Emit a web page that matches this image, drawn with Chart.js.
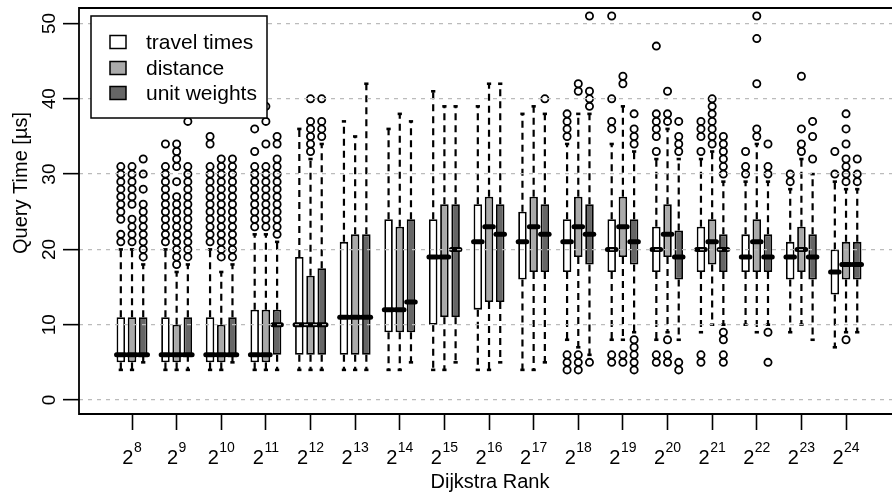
<!DOCTYPE html>
<html>
<head>
<meta charset="utf-8">
<script src="https://cdn.jsdelivr.net/npm/chart.js@4.4.1/dist/chart.umd.min.js"></script>
<style>
html, body { margin: 0; padding: 0; background: #fff; overflow: hidden; }
</style>
</head>
<body>
<canvas id="boxChart" width="892" height="495"></canvas>
<script>
// Dijkstra rank exponents (x categories), shown as 2^n
const rankExponents = [8, 9, 10, 11, 12, 13, 14, 15, 16, 17, 18, 19, 20, 21, 22, 23, 24];
const seriesNames = ['travel times', 'distance', 'unit weights'];
const yTicks = [0, 10, 20, 30, 40, 50];

// [lower whisker, q1, median, q3, upper whisker] per rank
const travelBox = [
    [4, 5, 6, 11, 20], [4, 5, 6, 11, 20], [4, 5, 6, 11, 20], [4, 5, 6, 12, 22],
    [4, 6, 10, 19, 36], [4, 6, 11, 21, 37], [4, 9, 12, 24, 36], [4, 10, 19, 24, 41],
    [4, 12, 21, 26, 39], [4, 16, 21, 25, 38], [8, 17, 21, 24, 34], [8, 17, 20, 24, 34],
    [8, 17, 20, 23, 32], [9, 17, 20, 23, 32], [10, 17, 19, 22, 29], [9, 16, 19, 21, 28],
    [7, 14, 17, 20, 29]
];
const distanceBox = [
    [4, 5, 6, 11, 20], [4, 5, 6, 10, 17], [4, 5, 6, 10, 17], [4, 5, 6, 12, 22],
    [4, 6, 10, 16.5, 32], [4, 6, 11, 22, 35], [4, 9, 12, 23, 38], [4, 11, 19, 26, 39],
    [4, 13, 23, 27, 42], [4, 17, 23, 27, 39], [7, 19, 23, 27, 38], [8, 19, 23, 27, 39],
    [9, 19, 22, 26, 36], [10, 18, 21, 24, 33], [9, 17, 21, 24, 34], [10, 17, 20, 23, 32],
    [9, 16, 18, 21, 28]
];
const unitBox = [
    [5, 6, 6, 11, 18], [4, 6, 6, 11, 18], [5, 6, 6, 11, 18], [4, 6, 10, 12, 21],
    [4, 6, 10, 17.5, 34], [4, 6, 11, 22, 42], [5, 9, 13, 24, 37], [5, 11, 20, 26, 39],
    [5, 13, 22, 26, 42], [5, 17, 22, 26, 38], [6, 18, 22, 26, 38], [9, 18, 21, 24, 33],
    [8, 16, 19, 22.5, 32], [10, 17, 20, 22, 29], [10, 17, 19, 22, 29], [8, 16, 19, 22, 30],
    [9, 16, 18, 21, 28]
];

// outliers per rank
const travelOut = [
    [21, 22, 24, 25, 26, 27, 28, 29, 30, 31],
    [21, 22, 23, 24, 25, 26, 27, 28, 29, 30, 31, 34],
    [21, 22, 23, 24, 25, 26, 27, 28, 29, 30, 31, 34, 35],
    [23, 24, 25, 26, 27, 28, 29, 30, 31, 33, 36],
    [], [], [], [], [], [],
    [35, 36, 37, 38, 4, 5, 6],
    [36, 37, 40, 51, 5, 6],
    [33, 35, 36, 37, 38, 47, 5, 6],
    [33, 35, 36, 37, 5, 6],
    [30, 31, 33],
    [29, 30],
    [30, 33]
];
const distanceOut = [
    [21, 22, 23, 24, 26, 27, 28, 29, 30, 31],
    [18, 19, 20, 21, 22, 23, 24, 25, 26, 27, 29, 31, 32, 33, 34],
    [19, 20, 21, 22, 23, 24, 25, 26, 27, 28, 29, 30, 31, 32],
    [23, 24, 25, 26, 27, 28, 29, 30, 31, 34, 37, 39],
    [33, 34, 35, 36, 37, 40],
    [], [], [], [], [],
    [41, 42, 4, 5, 6],
    [42, 43, 5, 6],
    [37, 38, 41, 5, 6, 8],
    [34, 35, 36, 37, 38, 39, 40],
    [35, 36, 42, 48, 51],
    [33, 34, 36, 43],
    [29, 30, 31, 32, 34, 36, 38, 8]
];
const unitOut = [
    [19, 20, 21, 22, 23, 24, 25, 26, 28, 30, 32],
    [19, 20, 21, 22, 23, 24, 25, 26, 27, 28, 29, 30, 31, 37],
    [19, 20, 21, 22, 23, 24, 25, 26, 27, 28, 29, 30, 31, 32],
    [22, 23, 24, 25, 26, 27, 28, 29, 30, 31, 32, 34, 35],
    [35, 36, 37, 40],
    [], [], [], [],
    [40],
    [39, 40, 41, 51, 5],
    [34, 35, 36, 38, 4, 5, 6, 7, 8],
    [33, 34, 35, 37, 4, 5],
    [30, 31, 32, 33, 34, 35, 5, 6, 8, 9],
    [30, 31, 34, 5, 9],
    [32, 35, 37],
    [29, 30, 32]
];

const fills = ['#ffffff', '#aaaaaa', '#666666'];
const FONT = '"Liberation Sans", Arial, Helvetica, sans-serif';

function boxDataset(name, stats, outliers, fill) {
    return {
        label: name,
        data: stats.map((s, i) => ({ x: i + 1, y: [s[1], s[3]] })),
        stats: stats,
        outliers: outliers,
        backgroundColor: fill,
        borderColor: '#000',
        borderWidth: 1.8,
        borderSkipped: false,
        categoryPercentage: 0.753,
        barPercentage: 0.76
    };
}

function seg(ctx, x1, y1, x2, y2) {
    ctx.beginPath();
    ctx.moveTo(x1, y1);
    ctx.lineTo(x2, y2);
    ctx.stroke();
}

const boxExtras = {
    id: 'boxExtras',
    afterDatasetsDraw(chart) {
        const ctx = chart.ctx;
        const y = chart.scales.y;
        chart.data.datasets.forEach((ds, di) => {
            const meta = chart.getDatasetMeta(di);
            meta.data.forEach((bar, j) => {
                const [lo, q1, med, q3, hi] = ds.stats[j];
                const cx = bar.x;
                const half = bar.width / 2;
                ctx.save();
                ctx.strokeStyle = '#000';
                // whiskers
                ctx.lineWidth = 2.2;
                ctx.setLineDash([7, 5]);
                seg(ctx, cx, y.getPixelForValue(q3), cx, y.getPixelForValue(hi));
                seg(ctx, cx, y.getPixelForValue(q1), cx, y.getPixelForValue(lo));
                ctx.setLineDash([]);
                // staples
                ctx.lineWidth = 2.6;
                seg(ctx, cx - half / 2, y.getPixelForValue(hi), cx + half / 2, y.getPixelForValue(hi));
                seg(ctx, cx - half / 2, y.getPixelForValue(lo), cx + half / 2, y.getPixelForValue(lo));
                // median
                ctx.lineWidth = 5;
                ctx.lineCap = 'round';
                seg(ctx, cx - half, y.getPixelForValue(med), cx + half, y.getPixelForValue(med));
                // outliers
                ctx.lineCap = 'butt';
                ctx.lineWidth = 1.8;
                ds.outliers[j].forEach(v => {
                    ctx.beginPath();
                    ctx.arc(cx, y.getPixelForValue(v), 3.6, 0, Math.PI * 2);
                    ctx.stroke();
                });
                ctx.restore();
            });
        });
    },
    afterDraw(chart) {
        const ctx = chart.ctx;
        const area = chart.chartArea;
        const x = chart.scales.x;
        const y = chart.scales.y;
        ctx.save();
        ctx.fillStyle = '#000';
        ctx.strokeStyle = '#000';

        // frame (right side falls outside the picture)
        ctx.lineWidth = 1.8;
        ctx.beginPath();
        ctx.moveTo(area.right + 2, area.top);
        ctx.lineTo(area.left, area.top);
        ctx.lineTo(area.left, area.bottom);
        ctx.lineTo(area.right + 2, area.bottom);
        ctx.stroke();

        // y tick labels, rotated like R's las=0
        ctx.font = '19px ' + FONT;
        ctx.textAlign = 'center';
        ctx.textBaseline = 'middle';
        yTicks.forEach(v => {
            ctx.save();
            ctx.translate(50, y.getPixelForValue(v));
            ctx.rotate(-Math.PI / 2);
            ctx.fillText(String(v), 0, 0);
            ctx.restore();
        });

        // x tick labels 2^n
        ctx.textAlign = 'left';
        ctx.textBaseline = 'alphabetic';
        rankExponents.forEach((e, i) => {
            const px = x.getPixelForValue(i + 1);
            ctx.font = '20px ' + FONT;
            const wb = ctx.measureText('2').width;
            ctx.font = '14px ' + FONT;
            const we = ctx.measureText(String(e)).width;
            const start = px - (wb + we + 0.5) / 2;
            ctx.font = '20px ' + FONT;
            ctx.fillText('2', start, 464);
            ctx.font = '14px ' + FONT;
            ctx.fillText(String(e), start + wb + 0.5, 452);
        });

        // axis titles
        ctx.font = '20px ' + FONT;
        ctx.textAlign = 'center';
        ctx.textBaseline = 'middle';
        ctx.fillText('Dijkstra Rank', 490, 482);
        ctx.save();
        ctx.translate(21, 183);
        ctx.rotate(-Math.PI / 2);
        ctx.fillText('Query Time [\u00b5s]', 0, 0);
        ctx.restore();

        // legend box
        ctx.fillStyle = '#fff';
        ctx.fillRect(91, 16, 176, 102);
        ctx.lineWidth = 1.5;
        ctx.strokeRect(91, 16, 176, 102);
        const rows = [42, 68, 93];
        ctx.font = '21px ' + FONT;
        ctx.textAlign = 'left';
        seriesNames.forEach((name, k) => {
            ctx.fillStyle = fills[k];
            ctx.fillRect(110, rows[k] - 6.5, 16, 13);
            ctx.strokeRect(110, rows[k] - 6.5, 16, 13);
            ctx.fillStyle = '#000';
            ctx.fillText(name, 146, rows[k] + 1);
        });
        ctx.restore();
    }
};

const ctx = document.getElementById('boxChart').getContext('2d');
const chart = new Chart(ctx, {
    type: 'bar',
    data: {
        datasets: [
            boxDataset(seriesNames[0], travelBox, travelOut, fills[0]),
            boxDataset(seriesNames[1], distanceBox, distanceOut, fills[1]),
            boxDataset(seriesNames[2], unitBox, unitOut, fills[2])
        ]
    },
    options: {
        responsive: false,
        animation: false,
        devicePixelRatio: 1,
        layout: { padding: { top: 8, right: 0, left: 0, bottom: 0 } },
        plugins: {
            legend: { display: false },
            tooltip: { enabled: false }
        },
        scales: {
            x: {
                type: 'linear',
                offset: false,
                min: -0.188,
                max: 18.03,
                afterBuildTicks: function(scale) {
                    scale.ticks = rankExponents.map((e, i) => ({ value: i + 1 }));
                },
                afterFit: function(scale) { scale.height = 81; },
                ticks: { display: false },
                grid: {
                    offset: false,
                    drawOnChartArea: false,
                    drawTicks: true,
                    tickLength: 16,
                    tickColor: '#000',
                    tickWidth: 1.6
                },
                border: { display: false }
            },
            y: {
                min: -1.86,
                max: 52.06,
                afterBuildTicks: function(scale) {
                    scale.ticks = yTicks.map(v => ({ value: v }));
                },
                afterFit: function(scale) { scale.width = 79; },
                ticks: { display: false },
                grid: {
                    z: 1,
                    color: '#bbbbbb',
                    lineWidth: 1.3,
                    tickLength: 16,
                    tickColor: '#000',
                    tickWidth: 1.6
                },
                border: { display: false, dash: [4, 5] }
            }
        }
    },
    plugins: [boxExtras]
});
</script>
</body>
</html>
